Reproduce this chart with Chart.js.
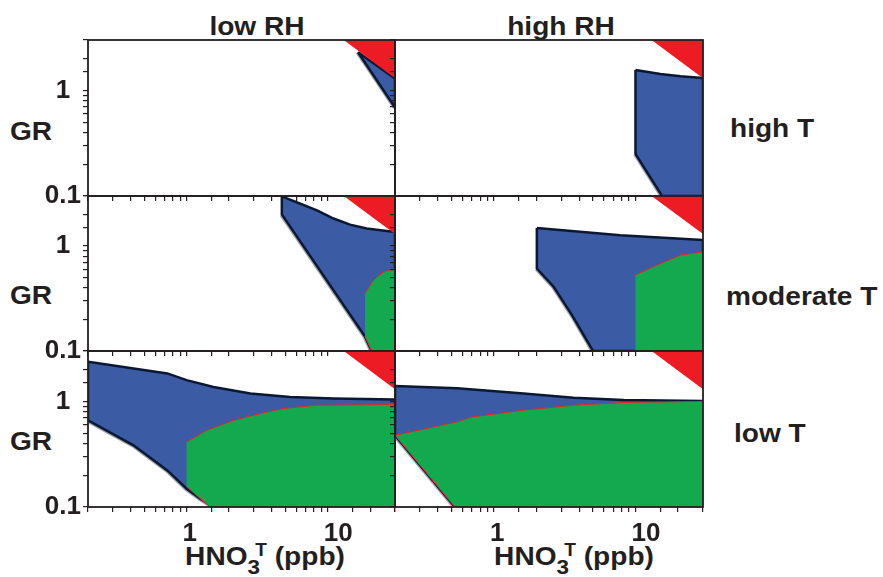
<!DOCTYPE html>
<html>
<head>
<meta charset="utf-8">
<script src="https://cdn.jsdelivr.net/npm/chart.js@4.4.1/dist/chart.umd.min.js"></script>
<style>
  body { margin: 0; background: #fff; }
  #wrap { position: relative; width: 883px; height: 577px; background: #fff; overflow: hidden; }
  #wrap canvas { position: absolute; left: 0; top: 0; }
  .lbl {
    position: absolute; font-family: 'Liberation Sans', Arial, sans-serif; font-weight: bold;
    font-size: 26px; line-height: 1; color: #231f20; white-space: nowrap;
  }
</style>
</head>
<body>
<div id="wrap">
  <div class="lbl" style="left:257px; top:26px; transform:translate(-50%,-50%) scaleX(1.08);">low RH</div>
  <div class="lbl" style="left:561px; top:26px; transform:translate(-50%,-50%) scaleX(1.08);">high RH</div>
  <div class="lbl" style="left:31px; top:131px; transform:translate(-50%,-50%) scaleX(1.08);">GR</div>
  <div class="lbl" style="left:31px; top:295px; transform:translate(-50%,-50%) scaleX(1.08);">GR</div>
  <div class="lbl" style="left:31px; top:441px; transform:translate(-50%,-50%) scaleX(1.08);">GR</div>
  <div class="lbl" style="left:730px; top:128px; transform:translate(0,-50%) scaleX(1.08); transform-origin:left center;">high T</div>
  <div class="lbl" style="left:726px; top:296px; transform:translate(0,-50%) scaleX(1.08); transform-origin:left center;">moderate T</div>
  <div class="lbl" style="left:734px; top:433px; transform:translate(0,-50%) scaleX(1.08); transform-origin:left center;">low T</div>
  <div class="lbl" style="left:265px; top:543px; transform:translate(-50%,0) scaleX(1.08);">HNO<span style="font-size:0.8em; position:relative; top:0.45em;">3</span><span style="font-size:0.68em; position:relative; top:-0.5em; margin-left:-0.25em;">T</span> (ppb)</div>
  <div class="lbl" style="left:574px; top:543px; transform:translate(-50%,0) scaleX(1.08);">HNO<span style="font-size:0.8em; position:relative; top:0.45em;">3</span><span style="font-size:0.68em; position:relative; top:-0.5em; margin-left:-0.25em;">T</span> (ppb)</div>
</div>

<script>
// axis ranges and tick labels
const xMin = 0.2, xMax = 30;
const yMin = 0.1, yMax = 3;
const xTickLabels = [1, 10];
const yTickLabels = [0.1, 1];

// regions, as [HNO3T (ppb), GR] vertices, clockwise
const redCorner = [[13, 3], [30, 3], [30, 1.3]];

const blueHiTLoRH = [[16.4, 2.3], [30, 1.3], [30, 0.69]];

const blueHiTHiRH = [[10, 1.56], [15, 1.43], [20.8, 1.36], [30, 1.31], [30, 0.1], [15.4, 0.1], [10, 0.25]];

const blueModTLoRH = [[4.73, 2.97], [6.4, 2.53], [8.4, 2.19], [11, 1.83], [14.4, 1.6], [18.9, 1.47], [30, 1.36],
                      [30, 0.1], [20.5, 0.1], [18.4, 0.137], [4.73, 2.0]];
const greenModTLoRH = [[18.4, 0.354], [21.1, 0.474], [24.8, 0.568], [30, 0.61], [30, 0.1], [20.5, 0.1], [18.4, 0.137]];

const blueModTHiRH = [[2.01, 1.49], [7.8, 1.27], [30, 1.14], [30, 0.1], [5.06, 0.1], [4.93, 0.104],
                      [3.56, 0.22], [2.64, 0.41], [2.01, 0.61]];
const greenModTHiRH = [[10, 0.53], [14.2, 0.66], [20.8, 0.82], [30, 0.88], [30, 0.1], [10, 0.1]];

const blueLoTLoRH = [[0.2, 2.37], [0.73, 1.84], [1.0, 1.59], [1.55, 1.37], [2.83, 1.19], [5.4, 1.10], [11, 1.066], [30, 1.04],
                     [30, 0.1], [1.55, 0.1], [1.25, 0.12], [1.0, 0.149], [0.73, 0.222], [0.42, 0.384], [0.2, 0.66]];
const greenLoTLoRH = [[1, 0.413], [1.39, 0.533], [2.15, 0.66], [3.32, 0.768], [4.86, 0.857], [8.38, 0.92], [30, 0.935],
                      [30, 0.1], [1.47, 0.1], [1.25, 0.12], [1, 0.156]];

const blueLoTHiRH = [[0.2, 1.40], [0.55, 1.33], [1.62, 1.19], [3.65, 1.08], [8.26, 1.03], [30, 1.01],
                     [30, 0.1], [0.53, 0.1], [0.2, 0.478]];
const greenLoTHiRH = [[0.2, 0.478], [0.55, 0.64], [0.70, 0.713], [1.62, 0.826], [3.65, 0.92], [8.26, 0.977], [30, 1.0],
                      [30, 0.1], [0.53, 0.1]];

const BLUE = '#3b5ba5', NAVY = '#0b1833', GREEN = '#12a94f', RED = '#ed1c24', EDGE = '#e8242b',
      SHADE = '#9ea3ab', INK = '#231f20', NONE = 'rgba(0,0,0,0)';

Chart.defaults.font.family = "'Liberation Sans', Arial, sans-serif";
Chart.defaults.font.weight = 'bold';
Chart.defaults.font.size = 26;
Chart.defaults.color = INK;

const framePlugin = {
    id: 'frame',
    afterDatasetsDraw(chart) {
        const { ctx, chartArea: a } = chart;
        ctx.save();
        ctx.strokeStyle = INK;
        ctx.lineWidth = 1.8;
        ctx.strokeRect(a.left, a.top, a.right - a.left, a.bottom - a.top);
        ctx.restore();
    }
};

function near(v, list) {
    return list.some(t => Math.abs(Math.log10(v) - Math.log10(t)) < 1e-6);
}

function toXY(points) {
    return points.concat([points[0]]).map(p => ({ x: p[0], y: p[1] }));
}

const onBottom = c => c.p0.parsed.y === yMin && c.p1.parsed.y === yMin;

// filled polygon
function area(points, fillColor, lineColor, lineWidth) {
    return {
        data: toXY(points),
        fill: 'shape',
        backgroundColor: fillColor,
        borderColor: lineColor,
        borderWidth: lineWidth,
        pointRadius: 0,
        tension: 0,
        clip: 0
    };
}

// thin edge of a green polygon, vertical sides and the bottom left out
function edge(points, lineColor, lineWidth) {
    return {
        data: toXY(points),
        fill: false,
        borderColor: lineColor,
        borderWidth: lineWidth,
        pointRadius: 0,
        tension: 0,
        clip: 0,
        segment: {
            borderColor: c => (c.p0.parsed.x === c.p1.parsed.x || onBottom(c) ? NONE : undefined)
        }
    };
}

// grey shadow under the lower (right-to-left) sides of a blue polygon
function shade(points) {
    return {
        data: toXY(points),
        fill: false,
        borderColor: SHADE,
        borderWidth: 5,
        pointRadius: 0,
        tension: 0,
        clip: 0,
        segment: {
            borderColor: c => (c.p1.parsed.x < c.p0.parsed.x && !onBottom(c) ? undefined : NONE)
        }
    };
}

const panels = [
    { L: 88,  T: 40,  R: 395, B: 196, blue: blueHiTLoRH,  green: null,          yLab: true,  xLab: false },
    { L: 395, T: 40,  R: 703, B: 196, blue: blueHiTHiRH,  green: null,          yLab: false, xLab: false },
    { L: 88,  T: 196, R: 395, B: 351, blue: blueModTLoRH, green: greenModTLoRH, yLab: true,  xLab: false },
    { L: 395, T: 196, R: 703, B: 351, blue: blueModTHiRH, green: greenModTHiRH, yLab: false, xLab: false },
    { L: 88,  T: 351, R: 395, B: 507, blue: blueLoTLoRH,  green: greenLoTLoRH,  yLab: true,  xLab: true },
    { L: 395, T: 351, R: 703, B: 507, blue: blueLoTHiRH,  green: greenLoTHiRH,  yLab: false, xLab: true }
];

const Y_W = 50, X_H = 44;
const wrap = document.getElementById('wrap');

panels.forEach(p => {
    const canvas = document.createElement('canvas');
    canvas.width = 883;
    canvas.height = 577;
    wrap.appendChild(canvas);

    // first dataset is drawn on top
    const datasets = [area(redCorner, RED, RED, 0)];
    if (p.green) {
        datasets.push(edge(p.green, EDGE, 1));
        datasets.push(area(p.green, GREEN, GREEN, 0));
    }
    datasets.push(area(p.blue, BLUE, NAVY, 2.5));
    datasets.push(shade(p.blue));

    new Chart(canvas.getContext('2d'), {
        type: 'line',
        data: { datasets },
        options: {
            responsive: false,
            animation: false,
            devicePixelRatio: 1,
            events: [],
            layout: {
                autoPadding: false,
                padding: { left: p.L - Y_W, top: p.T, right: 883 - p.R, bottom: 577 - p.B - X_H }
            },
            plugins: { legend: { display: false }, tooltip: { enabled: false } },
            scales: {
                x: {
                    type: 'logarithmic', min: xMin, max: xMax, position: 'bottom',
                    border: { display: false },
                    grid: { display: true, drawOnChartArea: false, drawTicks: true, tickLength: 5, color: INK, lineWidth: 1.2 },
                    ticks: {
                        autoSkip: false, maxRotation: 0, align: 'start', labelOffset: -4, padding: 6,
                        callback: v => (p.xLab && near(v, xTickLabels) ? String(v) : '')
                    },
                    afterFit: s => { s.height = X_H; }
                },
                y: {
                    type: 'logarithmic', min: yMin, max: yMax, position: 'left',
                    border: { display: false },
                    grid: { display: true, drawOnChartArea: false, drawTicks: true, tickLength: 5, color: INK, lineWidth: 1.2 },
                    ticks: {
                        autoSkip: false, crossAlign: 'center', padding: 2,
                        callback: v => (p.yLab && near(v, yTickLabels) ? (v < 0.5 ? '0.1' : '1') : '')
                    },
                    afterFit: s => { s.width = Y_W; }
                }
            }
        },
        plugins: [framePlugin]
    });
});
</script>
</body>
</html>
